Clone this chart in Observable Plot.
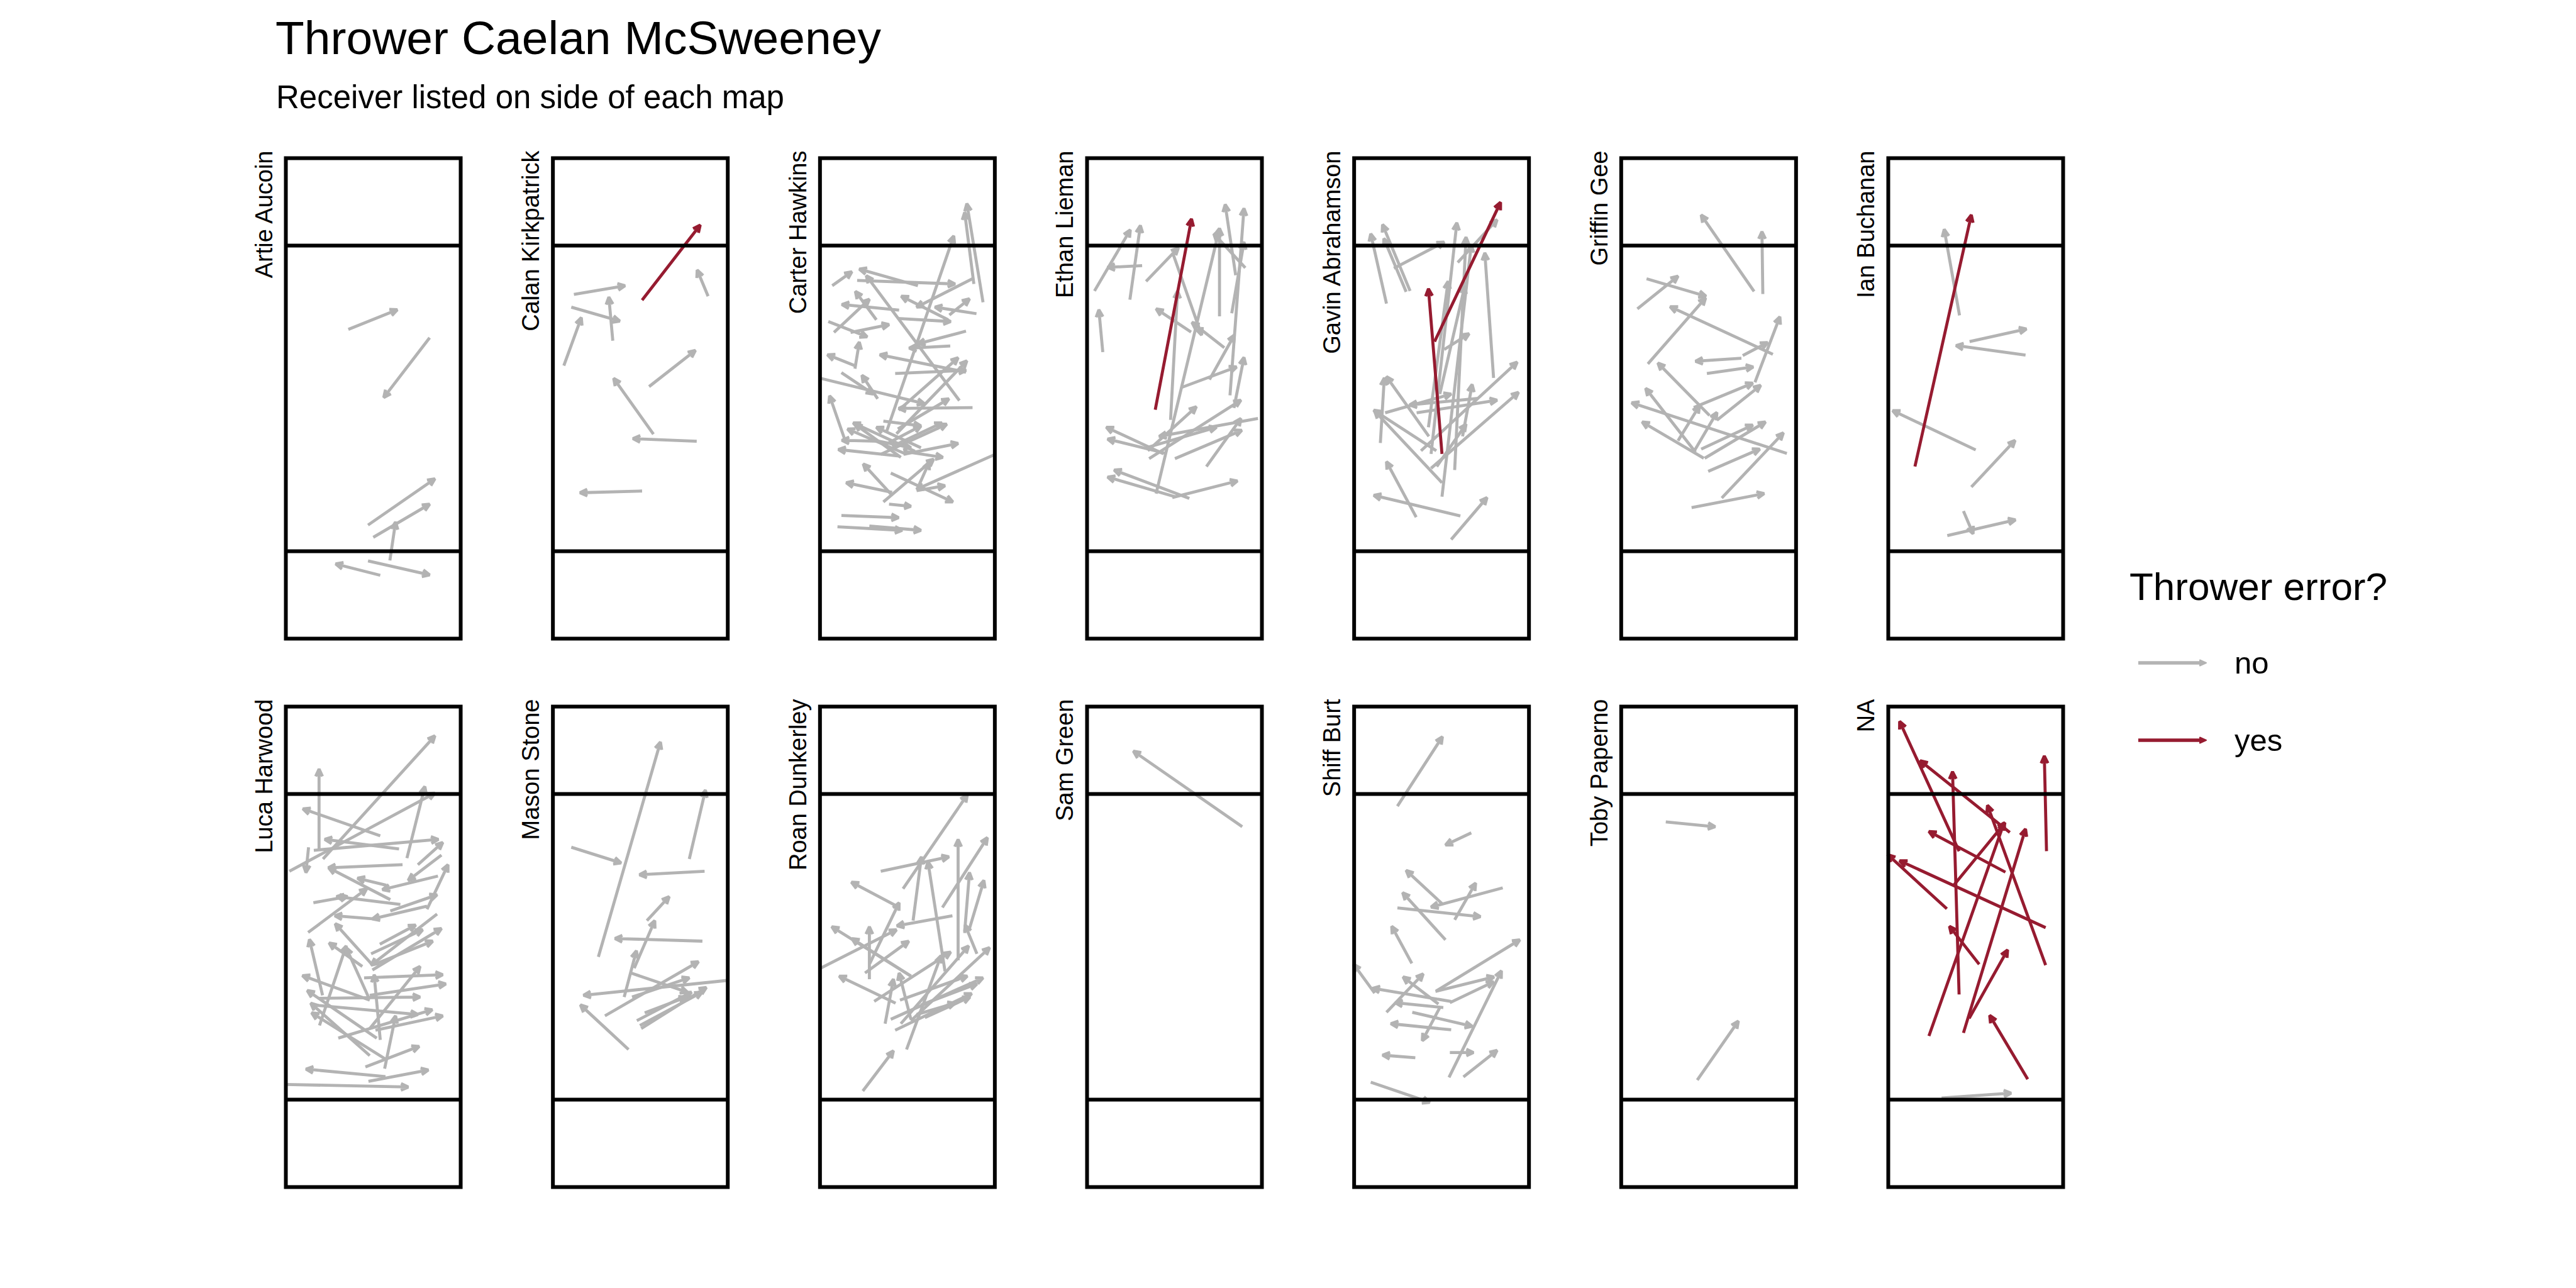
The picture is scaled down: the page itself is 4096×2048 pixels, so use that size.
<!DOCTYPE html>
<html><head><meta charset="utf-8">
<script src="https://cdn.jsdelivr.net/npm/d3@7"></script>
<script src="https://cdn.jsdelivr.net/npm/@observablehq/plot@0.6"></script>
<style>
html,body{margin:0;padding:0;background:#fff;}
#wrap{position:relative;width:4096px;height:2048px;overflow:hidden;font-family:"Liberation Sans",Arial,Helvetica,sans-serif;}
#chart{position:absolute;left:0;top:0;}
#overlay{position:absolute;left:0;top:0;pointer-events:none;}
</style></head><body>
<div id="wrap"><div id="chart"></div>
<svg id="overlay" width="4096" height="2048" xmlns="http://www.w3.org/2000/svg" font-family="Liberation Sans, Arial, Helvetica, sans-serif"></svg>
</div>
<script>
// Field coordinates in yards: x across (0-40), y along the field (0-110), endzones 0-20 and 90-110.
// Each throw: [x1, y1, x2, y2, throwerError(0/1)]
const titleText = "Thrower Caelan McSweeney";
const subtitleText = "Receiver listed on side of each map";
const legendTitle = "Thrower error?";
const errorLevels = ["no", "yes"];
const errorColors = ["#b3b3b3", "#961b30"];

const receivers = ["Artie Aucoin", "Calan Kirkpatrick", "Carter Hawkins", "Ethan Lieman", "Gavin Abrahamson", "Griffin Gee", "Ian Buchanan",
  "Luca Harwood", "Mason Stone", "Roan Dunkerley", "Sam Green", "Shiff Burt", "Toby Paperno", "NA"];

const artieAucoin = [
  [14.3,70.8,25.5,75.3,0],[32.9,68.9,22.4,55.2,0],[18.8,26.0,34.1,36.6,0],[20.0,23.2,32.9,30.8,0],
  [23.8,17.9,25.1,26.7,0],[21.6,14.5,11.4,17.1,0],[18.8,17.8,32.9,14.6,0]
];
const calanKirkpatrick = [
  [20.4,77.5,33.7,94.7,1],[35.5,78.4,33.0,84.4,0],[4.8,78.8,16.5,80.8,0],[4.2,75.9,15.3,72.7,0],
  [13.7,68.2,12.8,78.2,0],[2.5,62.5,6.5,73.5,0],[22.0,57.7,32.6,66.0,0],[23.0,46.8,13.9,59.6,0],
  [32.9,45.2,18.3,45.8,0],[20.4,33.8,6.2,33.4,0]
];
const carterHawkins = [
  [15.2,47.3,30.6,92.2,0],[37.3,77.0,33.6,99.6,0],[35.2,81.2,33.1,97.6,0],[2.8,80.8,7.3,84.0,0],
  [22.4,80.8,9.0,84.6,0],[8.5,82.0,30.9,81.2,0],[34.9,82.4,22.1,75.9,0],[31.9,54.5,10.6,83.1,0],
  [12.9,73.0,8.1,79.5,0],[29.3,73.0,18.6,78.4,0],[35.8,74.4,26.3,75.9,0],[29.6,74.1,34.2,77.8,0],
  [18.1,75.2,5.0,76.5,0],[17.8,73.3,29.9,72.6,0],[3.2,70.1,11.3,77.7,0],[7.0,70.1,15.8,71.9,0],
  [1.9,72.6,10.8,69.1,0],[8.0,61.8,9.0,67.9,0],[8.0,62.5,1.7,65.0,0],[33.4,70.4,22.4,67.5,0],
  [29.8,67.0,20.4,66.5,0],[33.4,61.0,13.7,65.0,0],[18.0,52.3,31.6,64.3,0],[17.5,46.9,33.6,63.6,0],
  [17.2,60.7,33.4,61.4,0],[13.2,54.9,9.6,60.3,0],[4.9,60.9,12.2,56.0,0],[0.1,59.6,23.9,53.8,0],
  [34.9,52.9,18.0,52.7,0],[17.8,48.0,29.5,54.9,0],[5.7,45.5,2.2,55.6,0],[18.5,41.5,8.0,49.1,0],
  [19.8,42.2,6.3,48.0,0],[18.1,41.8,4.2,43.3,0],[13.9,42.2,29.0,49.1,0],[19.1,42.2,31.6,44.7,0],
  [19.1,42.9,28.1,41.5,0],[16.5,33.5,6.0,35.7,0],[16.5,32.8,9.9,40.0,0],[14.5,31.3,26.0,41.1,0],
  [16.2,37.9,30.4,31.3,0],[22.1,33.9,28.6,35.0,0],[40.1,42.2,22.1,34.2,0],[15.8,30.8,20.8,30.3,0],
  [4.9,28.2,18.0,27.7,0],[4.0,25.6,18.8,24.8,0],[11.3,25.8,23.1,24.8,0],[22.4,34.6,25.0,40.4,0],
  [21.7,42.9,7.6,49.4,0],[23.1,43.7,12.9,48.4,0],[14.9,44.4,23.1,48.7,0],[11.9,45.5,20.8,43.7,0],
  [16.5,44.0,27.9,49.4,0],[14.5,49.8,23.1,48.7,0],[13.5,45.2,5.0,45.4,0]
];
const ethanLieman = [
  [15.6,52.4,23.9,96.1,1],[1.7,79.6,9.9,93.6,0],[9.8,77.6,12.2,94.6,0],[12.6,85.4,4.7,85.0,0],
  [3.6,65.6,2.7,75.3,0],[13.5,81.8,20.9,89.5,0],[19.1,50.1,20.7,79.6,0],[23.8,70.2,15.8,75.5,0],
  [19.6,88.3,26.2,69.5,0],[31.4,66.6,24.0,72.4,0],[15.8,33.2,30.3,93.9,0],[30.3,73.8,30.3,93.9,0],
  [36.2,84.9,29.0,92.7,0],[34.0,83.2,31.6,99.4,0],[32.7,55.7,35.9,98.5,0],[33.1,74.5,35.9,90.8,0],
  [28.0,59.3,33.7,69.5,0],[21.6,57.5,34.2,62.2,0],[33.6,52.8,35.9,64.4,0],[13.9,43.0,25.0,53.1,0],
  [17.5,42.3,4.4,48.4,0],[18.1,42.4,4.7,45.7,0],[14.2,41.2,35.2,54.6,0],[20.1,41.2,35.4,47.7,0],
  [39.1,50.4,16.5,46.3,0],[27.3,39.4,35.2,50.4,0],[13.5,43.7,29.6,48.4,0],[23.4,32.1,6.2,38.6,0],
  [20.1,32.5,4.7,37.0,0],[19.5,32.3,34.4,36.1,0]
];
const gavinAbrahamson = [
  [18.4,68.0,33.5,99.9,1],[20.1,42.3,17.0,80.1,1],[7.4,76.7,3.8,92.7,0],[12.8,79.6,6.5,94.8,0],
  [11.9,79.4,6.8,91.6,0],[9.1,84.8,20.6,90.8,0],[17.6,42.3,23.5,95.2,0],[23.0,38.6,25.6,91.9,0],
  [20.1,32.5,26.8,90.1,0],[23.7,86.1,32.7,95.9,0],[31.9,59.7,29.9,88.3,0],[17.0,48.4,21.5,81.8,0],
  [19.6,56.0,25.3,80.7,0],[20.6,66.2,26.3,69.8,0],[6.0,44.8,6.9,59.7,0],[17.1,46.3,7.4,60.0,0],
  [7.1,51.7,22.2,56.0,0],[18.8,43.0,4.5,52.3,0],[20.1,35.7,4.7,52.1,0],[14.3,51.7,32.7,54.6,0],
  [17.6,39.0,37.6,56.4,0],[15.3,43.0,37.3,63.3,0],[24.8,46.3,27.0,58.2,0],[28.4,55.0,12.7,53.5,0],
  [14.2,27.8,7.4,40.5,0],[24.3,28.1,4.5,32.8,0],[22.2,22.7,30.4,32.3,0],[18.9,39.4,25.6,49.1,0]
];
const griffinGee = [
  [30.4,79.5,18.3,97.0,0],[32.4,78.9,32.2,93.2,0],[5.8,82.4,19.4,78.4,0],[3.7,75.5,13.0,83.0,0],
  [6.1,62.9,19.3,78.0,0],[34.7,65.1,11.2,76.0,0],[30.6,58.7,36.3,73.7,0],[27.8,64.8,33.5,67.8,0],
  [27.5,64.2,17.0,63.5,0],[19.6,60.7,30.2,62.2,0],[20.2,51.1,8.4,63.1,0],[16.6,52.9,30.1,58.5,0],
  [21.9,50.0,31.9,58.0,0],[17.0,42.7,5.6,57.3,0],[13.0,45.3,17.9,53.3,0],[16.8,43.1,21.9,51.8,0],
  [37.9,42.4,2.4,54.0,0],[18.9,41.3,4.8,49.6,0],[18.3,43.4,30.1,48.9,0],[19.1,41.3,33.0,49.6,0],
  [19.9,38.3,31.7,43.4,0],[23.0,32.2,37.1,47.1,0],[16.1,30.0,32.7,33.2,0]
];
const ianBuchanan = [
  [6.1,39.4,19.0,97.0,1],[16.3,74.0,12.8,93.7,0],[18.6,68.0,31.6,70.9,0],[31.4,64.9,15.5,67.1,0],
  [20.0,43.2,1.0,52.2,0],[19.0,34.7,29.0,45.4,0],[13.5,23.6,29.1,27.2,0],[17.2,29.2,19.4,24.0,0]
];
const lucaHarwood = [
  [8.5,75.1,34.1,103.3,0],[7.6,77.1,7.6,95.7,0],[0.8,72.3,34.1,90.2,0],[27.7,75.3,31.8,91.7,0],
  [21.6,80.4,3.9,86.6,0],[6.4,77.1,34.9,79.6,0],[25.9,77.4,8.9,79.6,0],[5.2,77.8,4.6,72.0,0],
  [30.2,73.8,35.9,78.9,0],[26.7,73.8,9.7,73.1,0],[35.6,76.0,28.0,70.2,0],[23.9,65.8,9.8,73.1,0],
  [23.0,69.1,16.4,70.7,0],[34.8,71.2,22.1,68.1,0],[26.2,64.7,11.6,66.5,0],[6.3,65.1,14.1,66.5,0],
  [5.1,58.3,18.5,68.3,0],[32.3,63.6,37.1,73.8,0],[23.9,63.2,34.6,66.9,0],[32.3,64.3,19.8,61.4,0],
  [20.2,61.4,11.2,62.1,0],[34.6,62.5,19.5,50.8,0],[19.5,51.2,11.3,60.3,0],[8.4,43.9,5.4,56.7,0],
  [17.5,50.5,9.9,55.9,0],[7.7,37.0,13.8,55.2,0],[18.9,43.5,13.8,54.8,0],[21.5,55.6,29.7,60.0,0],
  [19.5,53.4,31.3,58.9,0],[19.8,49.7,35.6,59.2,0],[20.8,51.2,33.6,56.3,0],[19.2,42.8,3.8,48.4,0],
  [20.8,34.1,4.9,45.0,0],[19.2,30.1,5.7,42.1,0],[22.8,29.3,5.9,39.9,0],[6.1,41.7,30.2,39.5,0],
  [12.0,34.1,33.5,40.6,0],[20.5,35.9,35.9,39.2,0],[22.6,27.1,25.1,39.2,0],[18.2,27.5,30.5,32.2,0],
  [22.8,25.3,4.6,27.0,0],[18.9,24.2,32.6,26.8,0],[0.0,23.5,28.0,22.9,0],[17.9,47.9,35.9,48.6,0],
  [19.2,43.9,36.6,46.5,0],[19.2,36.3,30.7,50.5,0],[7.4,43.2,30.7,43.5,0],[21.6,33.7,20.2,48.6,0]
];
const masonStone = [
  [10.4,52.7,24.6,101.9,0],[31.2,75.1,34.9,90.9,0],[4.2,77.8,15.6,74.2,0],[34.7,72.3,19.8,71.5,0],
  [21.5,61.0,26.6,66.5,0],[34.2,56.3,14.2,56.9,0],[18.6,50.1,23.3,61.0,0],[16.3,43.5,19.1,54.1,0],
  [17.9,49.0,30.8,44.6,0],[39.8,47.3,7.0,43.9,0],[11.9,39.2,33.3,51.6,0],[18.1,43.5,31.2,47.9,0],
  [17.3,31.5,6.3,41.7,0],[19.2,38.1,31.7,44.6,0],[19.9,37.0,34.1,44.6,0],[20.2,36.3,35.1,45.7,0],
  [21.0,39.9,30.5,43.5,0]
];
const roanDunkerley = [
  [19.0,68.3,33.7,89.8,0],[13.9,72.3,29.5,75.6,0],[31.6,51.9,31.6,79.6,0],[28.0,64.0,38.3,80.0,0],
  [33.1,58.5,34.2,72.0,0],[34.2,59.2,37.5,70.2,0],[35.9,53.4,33.2,60.0,0],[28.6,49.4,24.7,74.5,0],
  [21.3,61.0,23.2,75.6,0],[30.3,62.1,17.6,59.8,0],[17.6,64.3,7.2,69.8,0],[11.4,51.2,18.1,65.1,0],
  [11.3,47.6,11.3,59.6,0],[0.1,50.1,17.5,58.9,0],[20.8,48.3,2.7,59.6,0],[10.3,49.0,20.3,56.3,0],
  [20.8,48.3,7.3,56.9,0],[17.3,42.1,4.4,48.3,0],[14.9,37.4,16.8,47.6,0],[12.4,42.5,29.9,53.8,0],
  [20.8,38.1,38.8,54.8,0],[18.5,37.4,34.0,55.2,0],[19.8,31.5,27.7,53.0,0],[20.8,38.4,18.1,49.0,0],
  [16.2,38.4,37.3,47.9,0],[17.2,35.9,34.7,44.3,0],[18.3,42.8,33.7,48.3,0],[23.1,41.7,35.9,46.5,0],
  [22.1,39.5,30.9,42.1,0],[9.8,22.0,16.8,31.2,0],[24.0,38.8,34.3,43.5,0]
];
const samGreen = [
  [35.5,82.5,10.6,99.8,0]
];
const shiffBurt = [
  [9.9,87.2,20.2,103.1,0],[26.8,81.1,20.9,78.3,0],[20.2,64.8,11.9,72.5,0],[34.0,68.5,17.6,64.1,0],
  [23.0,61.2,27.8,69.6,0],[9.9,63.9,28.9,61.9,0],[20.9,56.6,11.1,67.4,0],[13.2,51.2,8.6,59.7,0],
  [18.8,44.9,37.9,56.6,0],[4.7,44.4,-0.1,51.0,0],[22.2,42.5,4.2,45.5,0],[7.4,40.0,15.8,48.8,0],
  [19.3,41.9,11.2,48.1,0],[18.6,44.8,32.0,48.1,0],[21.9,42.2,31.9,47.0,0],[21.7,25.1,33.7,49.5,0],
  [20.4,41.1,9.4,42.2,0],[13.3,40.0,27.0,36.8,0],[22.2,36.0,8.4,37.4,0],[19.6,41.1,15.6,33.5,0],
  [14.0,29.6,6.5,30.2,0],[21.9,30.8,27.3,30.8,0],[25.0,25.2,32.7,31.3,0],[3.8,24.0,17.3,19.4,0]
];
const tobyPaperno = [
  [10.2,83.6,21.5,82.5,0],[17.4,24.5,26.8,38.0,0]
];
const naReceiver = [
  [16.2,76.9,2.6,106.6,1],[16.2,44.1,14.7,95.1,1],[27.8,81.2,7.3,97.6,1],[36.2,76.9,35.7,98.7,1],
  [36.0,50.8,22.7,87.4,1],[26.8,72.1,9.3,81.4,1],[14.9,69.0,26.7,83.4,1],[9.3,34.6,26.5,83.4,1],
  [17.2,35.3,31.4,82.0,1],[13.4,63.7,-0.1,76.1,1],[36.0,59.4,2.6,74.7,1],[20.8,51.0,14.0,59.7,1],
  [18.5,38.6,27.3,54.3,1],[31.9,24.7,23.2,39.3,1],[12.2,20.4,28.1,21.5,0]
];

const throwsByReceiver = [artieAucoin, calanKirkpatrick, carterHawkins, ethanLieman, gavinAbrahamson, griffinGee, ianBuchanan,
  lucaHarwood, masonStone, roanDunkerley, samGreen, shiffBurt, tobyPaperno, naReceiver];

const nCols = 7;
const panels = receivers.map((name, i) => ({name, col: i % nCols, row: Math.floor(i / nCols)}));
const throwsTable = throwsByReceiver.flatMap((list, i) => list.map(([x1, y1, x2, y2, e]) => ({
  receiver: receivers[i], col: i % nCols, row: Math.floor(i / nCols), x1, y1, x2, y2, error: errorLevels[e]
})));

const arrowStyle = {x1: "x1", y1: "y1", x2: "x2", y2: "y2", fx: "col", fy: "row",
  strokeWidth: 4.8, headLength: 4, headAngle: 50, strokeLinecap: "butt", strokeLinejoin: "miter"};

const chart = Plot.plot({
  width: 4096, height: 2048,
  marginLeft: 454, marginRight: 816, marginTop: 251, marginBottom: 161,
  x: {domain: [0, 40], axis: null},
  y: {domain: [0, 110], axis: null},
  fx: {domain: d3.range(nCols), paddingInner: 0.3453, paddingOuter: 0, axis: null, round: false, label: null},
  fy: {domain: [0, 1], paddingInner: 0.1239, paddingOuter: 0, axis: null, round: false, label: null},
  style: {background: "white", fontFamily: "Liberation Sans, Arial, Helvetica, sans-serif", overflow: "visible"},
  marks: [
    Plot.arrow(throwsTable.filter(d => d.error === errorLevels[0]), {...arrowStyle, stroke: errorColors[0]}),
    Plot.arrow(throwsTable.filter(d => d.error === errorLevels[1]), {...arrowStyle, stroke: errorColors[1]}),
    Plot.ruleY([20, 90], {stroke: "black", strokeWidth: 6}),
    Plot.frame({stroke: "black", strokeWidth: 6}),
    Plot.text(panels, {fx: "col", fy: "row", text: "name", frameAnchor: "top-left", rotate: -90,
      textAnchor: "end", lineAnchor: "bottom", dx: -22, dy: -12, fontSize: 38, fill: "black"})
  ]
});
document.getElementById("chart").appendChild(chart);

// Title, subtitle and legend
const ov = d3.select("#overlay");
ov.append("text").attr("x", 438).attr("y", 86).attr("font-size", 75).attr("fill", "black").text(titleText);
ov.append("text").attr("x", 439).attr("y", 172).attr("font-size", 51).attr("fill", "black").text(subtitleText);
ov.append("text").attr("x", 3386).attr("y", 954).attr("font-size", 62).attr("fill", "black").text(legendTitle);
errorLevels.forEach((lvl, i) => {
  const y = 1054 + i * 123;
  const g = ov.append("g");
  g.append("line").attr("x1", 3400).attr("x2", 3500).attr("y1", y).attr("y2", y)
    .attr("stroke", errorColors[i]).attr("stroke-width", 5.5);
  g.append("path").attr("d", `M3498,${y - 4.5}L3508,${y}L3498,${y + 4.5}Z`)
    .attr("fill", errorColors[i]).attr("stroke", errorColors[i]).attr("stroke-width", 2).attr("stroke-linejoin", "round");
  g.append("text").attr("x", 3553).attr("y", y + 17).attr("font-size", 49).attr("fill", "black").text(lvl);
});
</script>
</body></html>
